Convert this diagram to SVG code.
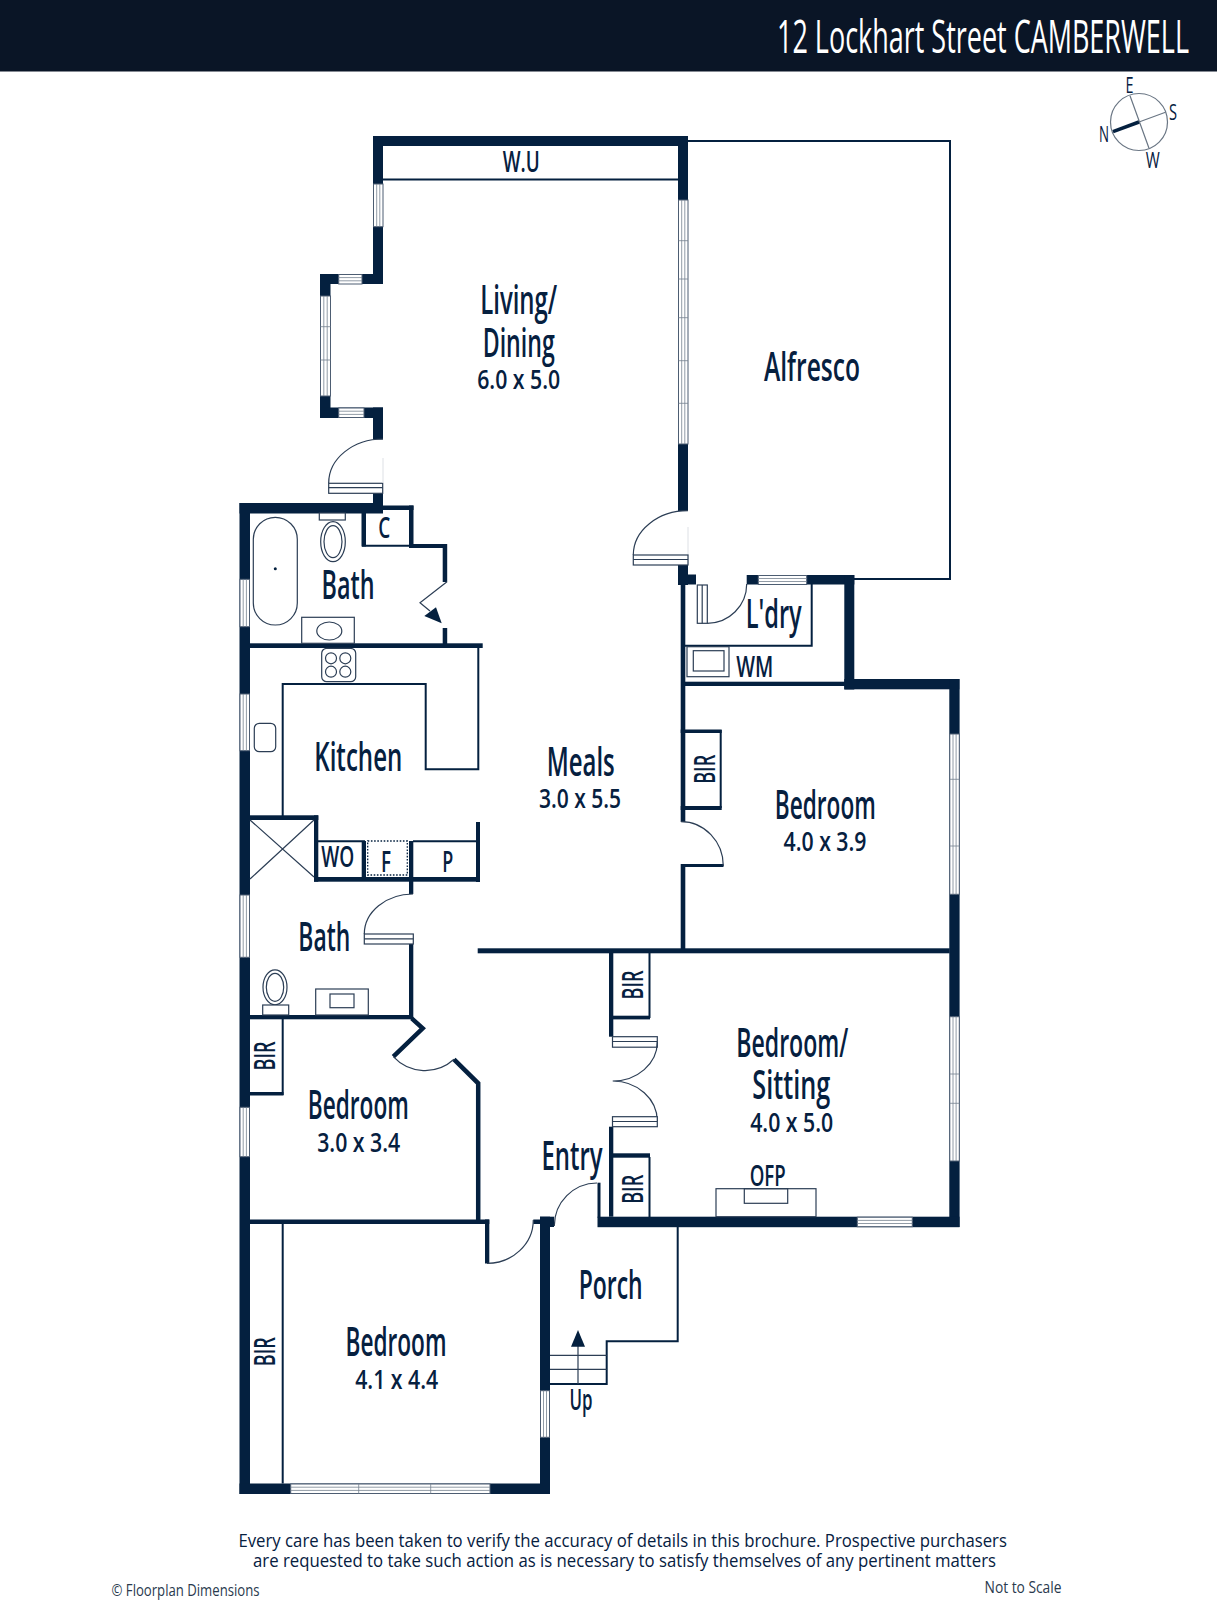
<svg xmlns="http://www.w3.org/2000/svg" width="1217" height="1600" viewBox="0 0 1217 1600">
<style>
.w{fill:#04203f}
.t{fill:none;stroke:#04203f;stroke-width:2}
.f{fill:#fff;stroke:#2c3e55;stroke-width:1.2}
.n{fill:none;stroke:#2c3e55;stroke-width:1.2}
.win{fill:#fff;stroke:#4d5d72;stroke-width:1}
.wl{fill:none;stroke:#75828f;stroke-width:.8}
text{font-family:"Open Sans","Liberation Sans",sans-serif;fill:#06203f;text-anchor:middle;font-weight:600}
.b{font-size:39px}
.s{font-size:27px}
.m{font-size:29px}
.c{font-size:21px;font-weight:400}
.e{font-size:18px;font-weight:500}
.o{font-size:16px;font-weight:400;fill:#2a3a4e}
</style>
<rect width="1217" height="1600" fill="#fff"/>
<g id="header">
<rect width="1217" height="71.5" fill="#0a1526"/>
<text x="1189" y="53" font-size="45" textLength="412" lengthAdjust="spacingAndGlyphs" style="fill:#fff;font-weight:400;text-anchor:end">12 Lockhart Street CAMBERWELL</text>
</g>
<g id="compass">
<circle class="n" cx="1139" cy="122" r="28.5" style="stroke:#6a7684"/>
<path class="n" d="M1130 95.7L1149 148.3M1139 122L1165.5 112.3" style="stroke:#6a7684"/>
<path d="M1139 122L1113 131.7" stroke="#04203f" stroke-width="3.5" fill="none"/>
<text class="c" x="1129.6" y="93" textLength="8" lengthAdjust="spacingAndGlyphs">E</text>
<text class="c" x="1173" y="120" textLength="8" lengthAdjust="spacingAndGlyphs">S</text>
<text class="c" x="1104" y="141.7" textLength="10" lengthAdjust="spacingAndGlyphs">N</text>
<text class="c" x="1152.7" y="168" textLength="14" lengthAdjust="spacingAndGlyphs">W</text>
</g>
<g id="alfresco">
<path class="t" d="M688 141H950V579H854"/>
<text class="b" x="812" y="381" textLength="96" lengthAdjust="spacingAndGlyphs">Alfresco</text>
</g>
<g id="walls">
<rect class="w" x="373" y="136" width="315" height="10"/>
<rect class="w" x="373" y="136" width="10" height="148"/>
<rect class="w" x="320" y="274" width="63" height="10"/>
<rect class="w" x="320" y="274" width="10.5" height="144"/>
<rect class="w" x="320" y="407.5" width="63" height="10.5"/>
<rect class="w" x="373" y="407.5" width="10" height="32"/>
<rect class="w" x="373" y="493" width="10" height="20"/>
<rect class="w" x="239.5" y="503" width="143.5" height="10.5"/>
<rect class="w" x="361.5" y="505.5" width="52" height="4.5"/>
<rect class="w" x="361.5" y="505.5" width="4.5" height="41"/>
<rect class="w" x="409" y="505.5" width="4.5" height="42"/>
<rect class="w" x="409" y="544" width="38" height="4"/>
<rect class="w" x="442.7" y="544" width="4.5" height="38"/>
<rect class="w" x="442.7" y="628" width="4.5" height="17"/>
<rect class="w" x="678" y="136" width="10" height="64"/>
<rect class="w" x="678" y="444" width="10" height="67"/>
<rect class="w" x="678" y="565" width="10" height="20"/>
<rect class="w" x="678" y="574.5" width="18" height="10"/>
<rect class="w" x="680.7" y="585" width="4.6" height="237"/>
<rect class="w" x="680.7" y="864" width="4.6" height="86"/>
<rect class="w" x="681" y="864" width="42.5" height="3"/>
<rect class="w" x="746.7" y="575" width="107.6" height="9.5"/>
<rect class="w" x="844.3" y="575" width="10" height="114.5"/>
<rect class="w" x="844.3" y="679" width="115" height="10.3"/>
<rect class="w" x="685" y="681.7" width="160" height="4.3"/>
<rect class="w" x="949.3" y="679" width="10.3" height="548"/>
<rect class="w" x="477.7" y="948.3" width="472" height="5"/>
<rect class="w" x="239.5" y="503" width="10.5" height="991"/>
<rect class="w" x="239.5" y="1483.5" width="310.5" height="10.5"/>
<rect class="w" x="540" y="1216.7" width="10" height="277.3"/>
<rect class="w" x="540" y="1216.7" width="14" height="10.3"/>
<rect class="w" x="250" y="643.3" width="232.7" height="4.7"/>
<rect class="w" x="250" y="815.3" width="68.3" height="4.7"/>
<rect class="w" x="314" y="815.3" width="4.3" height="66.4"/>
<rect class="w" x="314" y="877" width="166" height="4.7"/>
<rect class="w" x="361.7" y="841" width="4.3" height="38"/>
<rect class="w" x="409" y="841" width="4.3" height="53"/>
<rect class="w" x="476" y="822" width="4" height="60"/>
<rect class="w" x="409" y="944" width="4.3" height="75"/>
<rect class="w" x="250" y="1015" width="163" height="4.3"/>
<path d="M411.7 1018.3L422.7 1028.3L393.3 1056.7" fill="none" stroke="#04203f" stroke-width="4.5"/>
<path d="M454 1059.3L478.2 1083.3V1220" fill="none" stroke="#04203f" stroke-width="4.5"/>
<rect class="w" x="250" y="1219.5" width="239.3" height="4.5"/>
<rect class="w" x="485" y="1219.5" width="4.3" height="44"/>
<rect class="w" x="533.3" y="1219.5" width="7" height="4.5"/>
<rect class="w" x="597.5" y="1216.7" width="362" height="10.5"/>
<rect class="w" x="597.5" y="1182.7" width="3" height="35"/>
<rect class="w" x="609" y="953" width="4.3" height="83.7"/>
<rect class="w" x="609" y="1015.7" width="41" height="3.7"/>
<rect class="w" x="609" y="1126.7" width="4.3" height="90"/>
<rect class="w" x="609" y="1153.3" width="41" height="4.4"/>
<rect class="w" x="680.7" y="729.5" width="41" height="3.5"/>
<rect class="w" x="680.7" y="806" width="41" height="4"/>
<rect class="w" x="250" y="1092" width="33.5" height="3.5"/>
</g>
<g id="thin-walls">
<path class="t" d="M383 179.5H678"/>
<path class="t" d="M478.3 648V769.3H425.7V684H282.7V816"/>
<path class="t" d="M318 841.3H365M413 841.3H476"/>
<path class="t" d="M362 545.7H410"/>
<path class="t" d="M811.7 584V645.7H685"/>
<path class="t" d="M720.7 730V808"/>
<path class="t" d="M649.5 953V1018M649.5 1157V1217"/>
<path class="t" d="M282.7 1019V1095M282.7 1224V1483.5"/>
<path class="t" d="M677.7 1227V1341.3H606.7V1384H550"/>
</g>
<g id="windows">
<rect class="win" x="373.5" y="184" width="9.5" height="42.7"/><path class="wl" d="M376.7 184V226.7M379.8 184V226.7"/>
<rect class="win" x="338.7" y="274.5" width="23.3" height="9.5"/><path class="wl" d="M338.7 277.6H362M338.7 280.8H362"/>
<rect class="win" x="320.5" y="296" width="10" height="100"/><path class="wl" d="M323.8 296V396M327.2 296V396M320.5 326.7H330.5M320.5 360H330.5"/>
<rect class="win" x="338.7" y="408" width="25.3" height="9.5"/><path class="wl" d="M338.7 411.2H364M338.7 414.4H364"/>
<rect class="win" x="678.5" y="200" width="9.5" height="244"/><path class="wl" d="M681.7 200V444M684.8 200V444M678.5 240.7H688M678.5 279H688M678.5 317.7H688M678.5 360.7H688M678.5 403.3H688"/>
<rect class="win" x="240" y="579.3" width="9.5" height="47.4"/><path class="wl" d="M243.2 579.3V626.7M246.4 579.3V626.7"/>
<rect class="win" x="240" y="694" width="9.5" height="56.7"/><path class="wl" d="M243.2 694V750.7M246.4 694V750.7"/>
<rect class="win" x="240" y="895" width="9.5" height="62.3"/><path class="wl" d="M243.2 895V957.3M246.4 895V957.3"/>
<rect class="win" x="240" y="1107.3" width="9.5" height="49.4"/><path class="wl" d="M243.2 1107.3V1156.7M246.4 1107.3V1156.7"/>
<rect class="win" x="290.7" y="1484" width="199.3" height="9.5"/><path class="wl" d="M290.7 1487.2H490M290.7 1490.4H490M358.7 1484V1493.5M430.7 1484V1493.5"/>
<rect class="win" x="540.5" y="1390.7" width="9" height="46.6"/><path class="wl" d="M543.5 1390.7V1437.3M546.5 1390.7V1437.3"/>
<rect class="win" x="758.3" y="575.5" width="48.4" height="9"/><path class="wl" d="M758.3 578.5H806.7M758.3 581.5H806.7"/>
<rect class="win" x="949.8" y="734" width="9.5" height="160.3"/><path class="wl" d="M953 734V894.3M956.1 734V894.3M949.8 779.3H959.3M949.8 846H959.3"/>
<rect class="win" x="949.8" y="1016.7" width="9.5" height="144.3"/><path class="wl" d="M953 1016.7V1161M956.1 1016.7V1161M949.8 1074H959.3M949.8 1103.3H959.3"/>
<rect class="win" x="857.3" y="1217.2" width="55" height="9.5"/><path class="wl" d="M857.3 1220.4H912.3M857.3 1223.5H912.3"/>
</g>
<g id="doors">
<path class="n" d="M383 439A54.3 44 0 0 0 328.7 483"/>
<rect class="f" x="328.7" y="483.3" width="54" height="10"/><path class="n" d="M328.7 487.7H382.7"/>
<path d="M383 458V483M688 527V565" stroke="#dde0e5" stroke-width="1" fill="none"/>
<path class="n" d="M688 510.7A54.7 44.3 0 0 0 633.3 555"/>
<rect class="f" x="633.3" y="555" width="54.7" height="10"/><path class="n" d="M633.3 559.5H688"/>
<rect class="f" x="697.3" y="585" width="10" height="38.3"/><path class="n" d="M702.2 585V623.3"/>
<path class="n" d="M707.3 623.3A39.4 39.3 0 0 0 746.7 584"/>
<path class="n" d="M681 821.7A42.3 44.3 0 0 1 723.3 866"/>
<path class="n" d="M413 894A48.7 40 0 0 0 364.3 934"/>
<rect class="f" x="364.3" y="934" width="49" height="10"/><path class="n" d="M364.3 938.8H413.3"/>
<rect class="f" x="612.5" y="1036.7" width="44.8" height="10.5"/><path class="n" d="M612.5 1041.5H657.3"/>
<path class="n" d="M657.3 1042A44.6 39 0 0 1 612.7 1081A44.6 40 0 0 1 657.3 1121"/>
<rect class="f" x="612.5" y="1116.7" width="44.8" height="10"/><path class="n" d="M612.5 1121.5H657.3"/>
<path class="n" d="M393.3 1056.7A43 43 0 0 0 454 1059.3"/>
<path class="n" d="M597 1183A43 43 0 0 0 554.3 1226"/>
<path class="n" d="M487 1263.3A46.3 43.3 0 0 0 533.3 1220"/>
<path class="n" d="M447 581.7L420 602.7L430 611"/>
<path d="M424.3 616L436 607.3L441.7 623.3Z" fill="#04203f"/>
</g>
<g id="fixtures">
<rect class="n" x="253.3" y="517.3" width="44" height="107.7" rx="22"/>
<circle cx="275.3" cy="568.7" r="1.5" fill="#04203f"/>
<rect class="f" x="319.3" y="513" width="26" height="7"/>
<ellipse class="n" cx="333" cy="541.7" rx="12.3" ry="20"/><ellipse class="n" cx="333" cy="541.7" rx="9" ry="16"/>
<rect class="f" x="301.7" y="617.3" width="52.6" height="26"/><ellipse class="n" cx="329.3" cy="631" rx="12.5" ry="9"/>
<rect class="f" x="321.7" y="648.3" width="34" height="33.4" rx="5"/>
<circle class="n" cx="331" cy="658.3" r="5.5"/><circle class="n" cx="345.3" cy="658.3" r="5.5"/><circle class="n" cx="331" cy="671.7" r="5.5"/><circle class="n" cx="345.3" cy="671.7" r="5.5"/>
<rect class="n" x="254.3" y="723.3" width="21.4" height="28.4" rx="5"/>
<path class="n" d="M250 820L314 877M314 820L250 879"/>
<rect x="367.7" y="841" width="39.6" height="34" fill="none" stroke="#04203f" stroke-width="1.3" stroke-dasharray="1.6 1.6"/>
<ellipse class="n" cx="275" cy="987.3" rx="12" ry="17.5"/><ellipse class="n" cx="275" cy="987.3" rx="8.7" ry="14"/>
<rect class="f" x="262.7" y="1005" width="26" height="10"/>
<rect class="f" x="315.7" y="989" width="52.6" height="26"/><rect class="n" x="330" y="994" width="24" height="13.7"/>
<rect class="n" x="687" y="646.7" width="42" height="30"/><rect class="n" x="693.3" y="650.7" width="30.7" height="20.3"/>
<rect class="f" x="716" y="1188.7" width="100" height="28"/><rect class="n" x="744.3" y="1188.7" width="43.4" height="14.6"/>
<path class="n" d="M550 1355.3H606.7M550 1369.3H606.7M578 1384V1346"/>
<path d="M578 1330L585 1346.7H571Z" fill="#04203f"/>
</g>
<g id="labels">
<text class="b" x="518.7" y="314" textLength="77" lengthAdjust="spacingAndGlyphs">Living/</text>
<text class="b" x="518.7" y="357" textLength="72" lengthAdjust="spacingAndGlyphs">Dining</text>
<text class="s" x="518.7" y="389.3" textLength="83" lengthAdjust="spacingAndGlyphs">6.0 x 5.0</text>
<text class="m" x="521.3" y="171.7" textLength="37" lengthAdjust="spacingAndGlyphs">W.U</text>
<text class="m" x="384.3" y="538.3" textLength="12" lengthAdjust="spacingAndGlyphs">C</text>
<text class="b" x="348" y="599" textLength="53" lengthAdjust="spacingAndGlyphs">Bath</text>
<text class="b" x="358.3" y="771" textLength="88" lengthAdjust="spacingAndGlyphs">Kitchen</text>
<text class="b" x="580.7" y="775.5" textLength="68" lengthAdjust="spacingAndGlyphs">Meals</text>
<text class="s" x="580" y="808.3" textLength="82" lengthAdjust="spacingAndGlyphs">3.0 x 5.5</text>
<text class="m" x="337.7" y="867.3" textLength="33" lengthAdjust="spacingAndGlyphs">WO</text>
<text class="m" x="386" y="871.7" textLength="10" lengthAdjust="spacingAndGlyphs">F</text>
<text class="m" x="447.7" y="871.7" textLength="11" lengthAdjust="spacingAndGlyphs">P</text>
<text class="b" x="324.3" y="951" textLength="52" lengthAdjust="spacingAndGlyphs">Bath</text>
<text class="b" x="773.7" y="628" textLength="56" lengthAdjust="spacingAndGlyphs">L'dry</text>
<text class="m" x="754.7" y="676.7" textLength="37" lengthAdjust="spacingAndGlyphs">WM</text>
<text class="b" x="825.3" y="818.5" textLength="101" lengthAdjust="spacingAndGlyphs">Bedroom</text>
<text class="s" x="825" y="851" textLength="83" lengthAdjust="spacingAndGlyphs">4.0 x 3.9</text>
<text class="b" x="792.3" y="1057" textLength="112" lengthAdjust="spacingAndGlyphs">Bedroom/</text>
<text class="b" x="791.3" y="1099" textLength="78" lengthAdjust="spacingAndGlyphs">Sitting</text>
<text class="s" x="791.7" y="1131.7" textLength="83" lengthAdjust="spacingAndGlyphs">4.0 x 5.0</text>
<text class="m" x="767.7" y="1186" textLength="36" lengthAdjust="spacingAndGlyphs">OFP</text>
<text class="b" x="572" y="1170.3" textLength="61" lengthAdjust="spacingAndGlyphs">Entry</text>
<text class="b" x="358.3" y="1118.5" textLength="101" lengthAdjust="spacingAndGlyphs">Bedroom</text>
<text class="s" x="358.7" y="1151.7" textLength="83" lengthAdjust="spacingAndGlyphs">3.0 x 3.4</text>
<text class="b" x="396" y="1356" textLength="101" lengthAdjust="spacingAndGlyphs">Bedroom</text>
<text class="s" x="396.7" y="1389" textLength="83" lengthAdjust="spacingAndGlyphs">4.1 x 4.4</text>
<text class="b" x="610.7" y="1298.5" textLength="64" lengthAdjust="spacingAndGlyphs">Porch</text>
<text class="m" x="581" y="1410" textLength="23" lengthAdjust="spacingAndGlyphs">Up</text>
<text class="m" transform="rotate(-90 715 769.3)" x="715" y="769.3" textLength="29" lengthAdjust="spacingAndGlyphs">BIR</text>
<text class="m" transform="rotate(-90 643.3 985)" x="643.3" y="985" textLength="29" lengthAdjust="spacingAndGlyphs">BIR</text>
<text class="m" transform="rotate(-90 643.3 1189.3)" x="643.3" y="1189.3" textLength="29" lengthAdjust="spacingAndGlyphs">BIR</text>
<text class="m" transform="rotate(-90 275 1056)" x="275" y="1056" textLength="29" lengthAdjust="spacingAndGlyphs">BIR</text>
<text class="m" transform="rotate(-90 275 1351.7)" x="275" y="1351.7" textLength="29" lengthAdjust="spacingAndGlyphs">BIR</text>
</g>
<g id="footer">
<text class="e" x="622.7" y="1547" textLength="768.5" lengthAdjust="spacingAndGlyphs">Every care has been taken to verify the accuracy of details in this brochure. Prospective purchasers</text>
<text class="e" x="624.5" y="1566.7" textLength="743" lengthAdjust="spacingAndGlyphs">are requested to take such action as is necessary to satisfy themselves of any pertinent matters</text>
<text class="o" x="185.5" y="1596" textLength="148" lengthAdjust="spacingAndGlyphs">© Floorplan Dimensions</text>
<text class="o" x="1023" y="1592.7" textLength="77" lengthAdjust="spacingAndGlyphs">Not to Scale</text>
</g>
</svg>
